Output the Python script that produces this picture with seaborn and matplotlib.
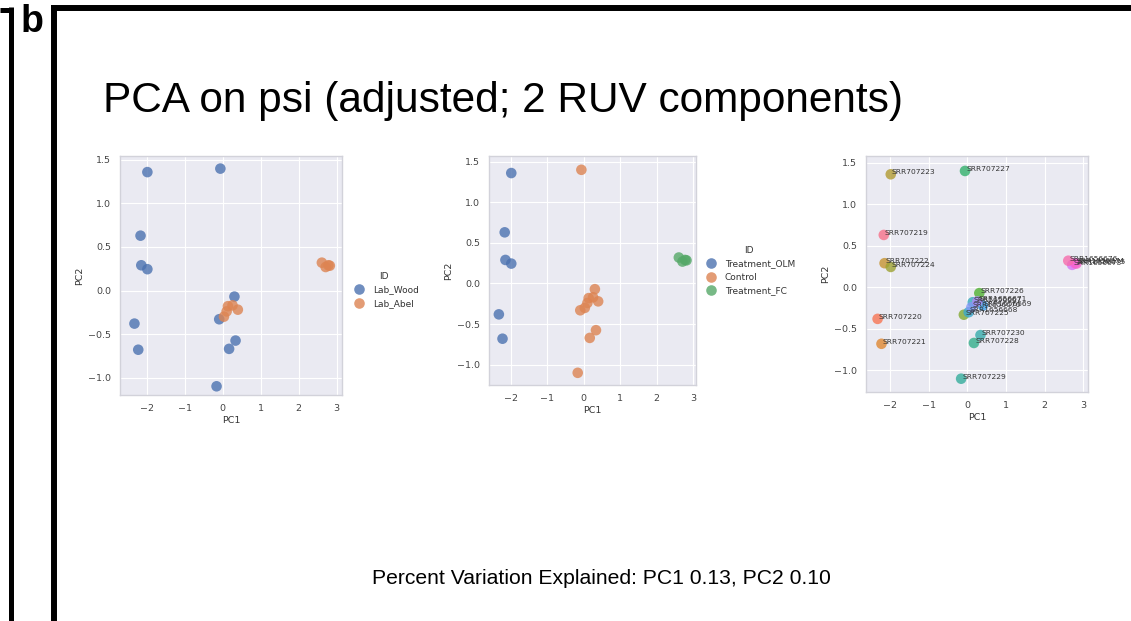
import pandas as pd
import matplotlib
matplotlib.use('Agg')
import matplotlib.pyplot as plt
from matplotlib.lines import Line2D
import seaborn as sns

# PCA coordinates
samples = ['SRR707219', 'SRR707220', 'SRR707221', 'SRR707222', 'SRR707223', 'SRR707224',
           'SRR707225', 'SRR707226', 'SRR707227', 'SRR707228', 'SRR707229', 'SRR707230',
           'SRR1656667', 'SRR1656668', 'SRR1656669', 'SRR1656670', 'SRR1656671',
           'SRR1656673', 'SRR1656674', 'SRR1656675', 'SRR1656676']
pc1 = [-2.16, -2.32, -2.22, -2.14, -1.98, -1.98,
       -0.09, 0.31, -0.06, 0.17, -0.16, 0.34,
       0.14, 0.035, 0.40, 0.105, 0.26,
       2.71, 2.78, 2.82, 2.61]
pc2 = [0.63, -0.38, -0.68, 0.29, 1.36, 0.245,
       -0.33, -0.07, 1.40, -0.67, -1.10, -0.575,
       -0.18, -0.30, -0.22, -0.24, -0.17,
       0.27, 0.29, 0.285, 0.32]
lab = ['Lab_Wood'] * 12 + ['Lab_Abel'] * 9
treatment = (['Treatment_OLM'] * 6 + ['Control'] * 6 + ['Control'] * 5
             + ['Treatment_FC'] * 4)

title = 'PCA on psi (adjusted; 2 RUV components)'
footer = 'Percent Variation Explained: PC1 0.13, PC2 0.10'

df = pd.DataFrame({'sample': samples, 'PC1': pc1, 'PC2': pc2,
                   'lab': lab, 'treatment': treatment})

sns.set_style('darkgrid')
plt.rcParams['font.family'] = ['DejaVu Sans']

fig = plt.figure(figsize=(11.31, 6.21), dpi=100)
W, H = 1131, 621


def px_axes(left, top, right, bottom):
    return fig.add_axes([left / W, 1 - bottom / H, (right - left) / W, (bottom - top) / H])


def style_axes(ax, xlim, ylim):
    ax.set_xlim(*xlim)
    ax.set_ylim(*ylim)
    ax.set_xticks([-2, -1, 0, 1, 2, 3])
    ax.set_yticks([-1.0, -0.5, 0.0, 0.5, 1.0, 1.5])
    ax.tick_params(labelsize=6.8, colors='#444444', pad=3)
    ax.set_xlabel('PC1', fontsize=6.8, color='#333333', labelpad=2)
    ax.set_ylabel('PC2', fontsize=6.8, color='#333333', labelpad=3)
    for s in ax.spines.values():
        s.set_visible(True)
        s.set_color('#d2d2da')
        s.set_linewidth(1.0)


def style_legend(ax, anchor):
    leg = ax.legend(title='ID', loc='center left', bbox_to_anchor=anchor,
                    frameon=False, fontsize=6.5, title_fontsize=6.5,
                    handletextpad=0.5, labelspacing=0.5, markerscale=1.0)
    for t in leg.get_texts():
        t.set_color('#333333')
    leg.get_title().set_color('#333333')


deep = sns.color_palette('deep')
dot = 58

# panel 1: lab
ax1 = px_axes(120, 156, 342, 395)
sns.scatterplot(data=df, x='PC1', y='PC2', hue='lab', palette=deep[:2],
                s=dot, alpha=0.8, linewidth=0, ax=ax1)
style_axes(ax1, (-2.70, 3.14), (-1.20, 1.545))
style_legend(ax1, (1.0, 0.44))

# panel 2: treatment
ax2 = px_axes(489, 156, 696, 385)
sns.scatterplot(data=df, x='PC1', y='PC2', hue='treatment', palette=deep[:3],
                s=dot, alpha=0.8, linewidth=0, ax=ax2)
style_axes(ax2, (-2.59, 3.08), (-1.25, 1.57))
style_legend(ax2, (0.99, 0.50))

# panel 3: sample names
ax3 = px_axes(866, 156, 1088, 392)
sns.scatterplot(data=df, x='PC1', y='PC2', hue='sample',
                palette=sns.color_palette('husl', len(samples)),
                s=dot, alpha=0.8, linewidth=0, legend=False, ax=ax3)
for name, x, y in zip(samples, pc1, pc2):
    ax3.text(x + 0.03, y, name, fontsize=5.4, color='#333333')
style_axes(ax3, (-2.62, 3.12), (-1.26, 1.58))

# titles
fig.text(103 / W, 1 - 101 / H, title, fontsize=30.5, family='Liberation Sans',
         color='black', ha='left', va='center')
fig.text(601 / W, 1 - 579 / H, footer, fontsize=15.2, family='Liberation Sans',
         color='black', ha='center', va='center')
fig.text(32 / W, 1 - 22 / H, 'b', fontsize=27, family='Liberation Sans',
         weight='bold', color='black', ha='center', va='center')

# panel frame decorations
def fig_line(xs, ys, lw):
    fig.add_artist(Line2D([x / W for x in xs], [1 - y / H for y in ys],
                          color='black', linewidth=lw, solid_capstyle='butt',
                          transform=fig.transFigure))


fig_line([0, 13], [9.5, 9.5], 3.6)
fig_line([10.5, 10.5], [7, H], 3.6)
fig_line([54, 54], [5, H], 4.3)
fig_line([51, W], [8, 8], 4.3)

plt.savefig('out.png', dpi=100)
